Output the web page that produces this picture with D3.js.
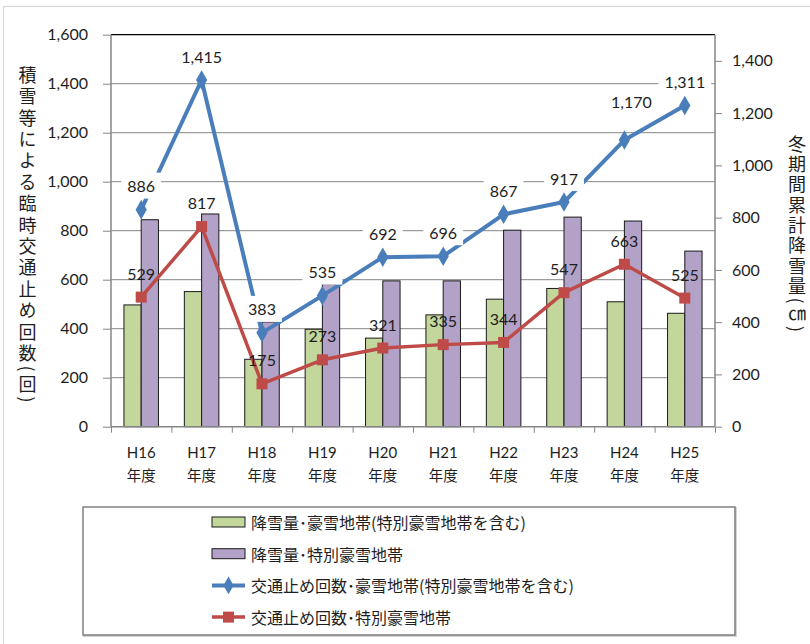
<!DOCTYPE html>
<html><head><meta charset="utf-8">
<script src="https://cdn.jsdelivr.net/npm/d3@7"></script>
<style>
body{margin:0;background:#fff}
svg{display:block}
</style>
</head><body>
<svg id="c" width="810" height="644"></svg>
<script>
const categories = ["H16","H17","H18","H19","H20","H21","H22","H23","H24","H25"];
const categorySuffix = "年度";
const snowAll = [466,517,258,373,339,428,488,529,478,434];
const snowSpecial = [792,814,401,546,558,558,752,802,787,672];
const closuresAll = [886,1415,383,535,692,696,867,917,1170,1311];
const closuresSpecial = [529,817,175,273,321,335,344,547,663,525];
const leftTicks = [0,200,400,600,800,1000,1200,1400,1600];
const rightTicks = [0,200,400,600,800,1000,1200,1400];
const seriesNames = ["降雪量･豪雪地帯(特別豪雪地帯を含む)","降雪量･特別豪雪地帯","交通止め回数･豪雪地帯(特別豪雪地帯を含む)","交通止め回数･特別豪雪地帯"];
const leftTitle = "積雪等による臨時交通止め回数(回)";
const rightTitle = "冬期間累計降雪量(㎝)";

const C = {green:"#c3d69b", purple:"#b3a2c7", blue:"#4a7ebb", red:"#be4b48", grid:"#868686", text:"#1e1e1e"};
const numFont = "Lato, 'Liberation Sans', sans-serif";
const cjkFont = "'Noto Sans CJK JP', sans-serif";

const svg = d3.select("#c");
const P = {l:111, r:715, t:34.7, b:426.7};

const x = d3.scaleBand().domain(categories).range([P.l, P.r]).padding(0);
const xi = d3.scaleBand().domain(["all","special"]).range([0, x.bandwidth()]).paddingInner(0).paddingOuter(0.75);
const xEdge = d3.scaleLinear().domain([0, categories.length]).range([P.l, P.r]);
const yL = d3.scaleLinear().domain([0,1600]).range([P.b, P.t]);
const yR = d3.scaleLinear().domain([0,1500]).range([P.b, P.t]);
const fmt = d3.format(",");
const cx = c => x(c) + x.bandwidth()/2;

// outer chart border
svg.append("rect").attr("x",3.5).attr("y",6.5).attr("width",830).attr("height",660)
  .attr("fill","#fff").attr("stroke","#d9d9d9").attr("stroke-width",1.2);

// gridlines
svg.append("g").selectAll("line").data(leftTicks.filter(v=>v>0 && v<1600)).join("line")
  .attr("x1",P.l).attr("x2",P.r).attr("y1",d=>yL(d)).attr("y2",d=>yL(d))
  .attr("stroke",C.grid).attr("stroke-width",1);
// top border of plot
svg.append("line").attr("x1",P.l).attr("x2",P.r).attr("y1",yL(1600)).attr("y2",yL(1600))
  .attr("stroke","#000").attr("stroke-width",1.3);

// bars
const barG = svg.append("g");
[["all",snowAll,C.green],["special",snowSpecial,C.purple]].forEach(([k,vals,col])=>{
  barG.append("g").selectAll("rect").data(categories).join("rect")
    .attr("x",(c)=>x(c)+xi(k)).attr("width",xi.bandwidth())
    .attr("y",(c,i)=>yR(vals[i])).attr("height",(c,i)=>yR(0)-yR(vals[i]))
    .attr("fill",col).attr("stroke","#1a1a1a").attr("stroke-width",1);
});

// axes
const axL = svg.append("g").attr("transform",`translate(${P.l},0)`)
  .call(d3.axisLeft(yL).tickValues(leftTicks).tickSize(8).tickPadding(15).tickFormat(fmt));
const axR = svg.append("g").attr("transform",`translate(${P.r},0)`)
  .call(d3.axisRight(yR).tickValues(rightTicks).tickSize(7).tickPadding(10).tickFormat(fmt));
const axB = svg.append("g").attr("transform",`translate(0,${P.b})`)
  .call(d3.axisBottom(xEdge).tickValues(d3.range(0,categories.length+1)).tickSize(6).tickFormat(""));
[axL,axR,axB].forEach(a=>{
  a.select(".domain").attr("stroke",C.grid).attr("stroke-width",1.5);
  a.selectAll(".tick line").attr("stroke",C.grid).attr("stroke-width",1);
  a.selectAll(".tick text").attr("font-family",numFont).attr("font-size",16).attr("fill",C.text);
});
axL.select(".domain").attr("d",`M0,${P.b}V${P.t}`);
axR.select(".domain").attr("d",`M0,${P.b}V${P.t}`);
axB.select(".domain").attr("d",`M${P.l},0H${P.r}`);

// category labels
const catG = svg.append("g").attr("fill",C.text).attr("text-anchor","middle");
catG.selectAll("text.h").data(categories).join("text").attr("class","h")
  .attr("x",cx).attr("y",452).attr("dominant-baseline","central")
  .attr("font-family",numFont).attr("font-size",15).text(d=>d);
catG.selectAll("text.n").data(categories).join("text").attr("class","n")
  .attr("x",cx).attr("y",474).attr("dominant-baseline","central")
  .attr("font-family",cjkFont).attr("font-size",14.5).text(categorySuffix);

// lines
const lineFor = (vals)=> d3.line().x(c=>cx(c)).y((c,i)=>yL(vals[i]));
const lineG = svg.append("g");
lineG.append("path").datum(categories).attr("d",lineFor(closuresAll))
  .attr("fill","none").attr("stroke",C.blue).attr("stroke-width",4).attr("stroke-linejoin","round");
lineG.append("g").selectAll("path").data(categories).join("path")
  .attr("transform",(c,i)=>`translate(${cx(c)},${yL(closuresAll[i])})`)
  .attr("d",d3.symbol(d3.symbolDiamond,110)).attr("fill",C.blue);
lineG.append("path").datum(categories).attr("d",lineFor(closuresSpecial))
  .attr("fill","none").attr("stroke",C.red).attr("stroke-width",3.5).attr("stroke-linejoin","round");
lineG.append("g").selectAll("rect").data(categories).join("rect")
  .attr("x",(c)=>cx(c)-5.5).attr("y",(c,i)=>yL(closuresSpecial[i])-5.5)
  .attr("width",11).attr("height",11).attr("fill",C.red);

// data labels
const liftBlue = i => i===8 ? 39 : 24;
const shiftBlue = i => i===8 ? 7 : 0;
const labG = svg.append("g").attr("font-family",numFont).attr("font-size",16).attr("fill",C.text);
categories.forEach((c,i)=>{
  const g = labG.append("g").attr("transform",`translate(${cx(c)+shiftBlue(i)},${yL(closuresAll[i])-liftBlue(i)})`);
  const t = g.append("text").attr("text-anchor","middle").attr("dominant-baseline","central").text(fmt(closuresAll[i]));
  const bb = t.node().getBBox();
  g.insert("rect","text").attr("x",bb.x-6).attr("y",-13).attr("width",bb.width+12).attr("height",26).attr("fill","#fff");
});
categories.forEach((c,i)=>{
  labG.append("text").attr("x",cx(c)).attr("y",yL(closuresSpecial[i])-24)
    .attr("text-anchor","middle").attr("dominant-baseline","central").text(fmt(closuresSpecial[i]));
});

// axis titles (vertical)
svg.append("text").attr("x",27.5).attr("y",66)
  .style("writing-mode","vertical-rl").style("text-orientation","mixed")
  .attr("font-family",cjkFont).attr("font-size",18).attr("letter-spacing",3.4).attr("fill",C.text)
  .text(leftTitle);
svg.append("text").attr("x",797).attr("y",135)
  .style("writing-mode","vertical-rl").style("text-orientation","mixed")
  .attr("font-family",cjkFont).attr("font-size",18).attr("letter-spacing",2.3).attr("fill",C.text)
  .text(rightTitle);

// legend
const lg = svg.append("g");
lg.append("rect").attr("x",84).attr("y",508).attr("width",652).attr("height",128).attr("fill","none").attr("stroke","#d4d4d4").attr("stroke-width",2);
lg.append("rect").attr("x",83).attr("y",507).attr("width",652).attr("height",128).attr("fill","#fff").attr("stroke","#6e6e6e").attr("stroke-width",1.3);
const rowY = i => 522 + i*31.7;
const sx = 212, sw = 33;
[C.green,C.purple].forEach((col,i)=>{
  lg.append("rect").attr("x",sx).attr("y",rowY(i)-5).attr("width",sw).attr("height",10)
    .attr("fill",col).attr("stroke","#1a1a1a").attr("stroke-width",1);
});
lg.append("line").attr("x1",sx).attr("x2",sx+sw).attr("y1",rowY(2)).attr("y2",rowY(2)).attr("stroke",C.blue).attr("stroke-width",4);
lg.append("path").attr("transform",`translate(${sx+sw/2},${rowY(2)})`).attr("d",d3.symbol(d3.symbolDiamond,90)).attr("fill",C.blue);
lg.append("line").attr("x1",sx).attr("x2",sx+sw).attr("y1",rowY(3)).attr("y2",rowY(3)).attr("stroke",C.red).attr("stroke-width",3.5);
lg.append("rect").attr("x",sx+sw/2-5.5).attr("y",rowY(3)-5.5).attr("width",11).attr("height",11).attr("fill",C.red);
seriesNames.forEach((n,i)=>{
  lg.append("text").attr("x",251).attr("y",rowY(i)).attr("dominant-baseline","central")
    .attr("font-family",cjkFont).attr("font-size",16).attr("fill",C.text).text(n);
});
</script>
</body></html>
